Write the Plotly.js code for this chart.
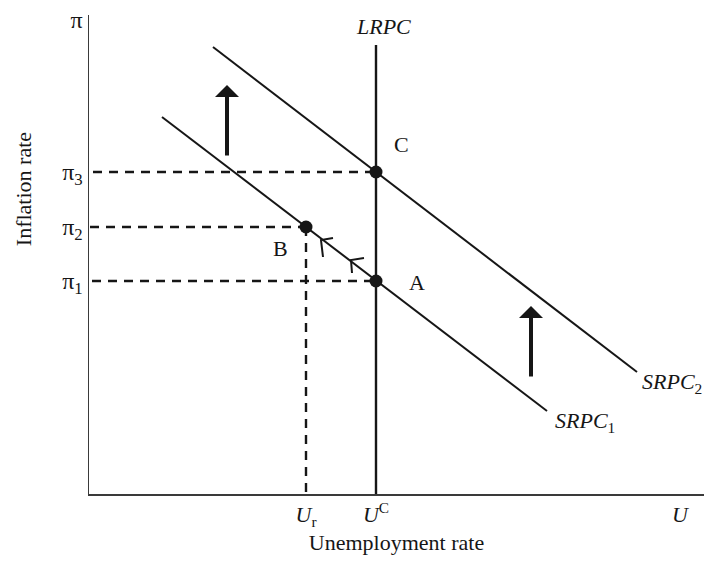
<!DOCTYPE html>
<html>
<head>
<meta charset="utf-8">
<script src="https://cdn.plot.ly/plotly-3.0.1.min.js"></script>
<style>html,body{margin:0;padding:0;background:#fff;}#chart{width:704px;height:563px;}</style>
</head>
<body>
<div id="chart"></div>
<script>
// ---- data (diagram units) ----
const srpc1X = [73, 458];
const srpc1Y = [377, 83];
const srpc2X = [124, 548];
const srpc2Y = [447, 122];
const lrpcX = [287, 287];
const lrpcY = [0, 449];
const pointNames = ['A', 'B', 'C'];
const pointX = [287, 217, 287];
const pointY = [213, 267, 322];
const dashStartX = [3, 1, 4];           // start of the horizontal guides for A, B, C
const yTickVals = [213, 267, 322, 474];
const yTickText = ['π<sub>1</sub>', 'π<sub>2</sub>', 'π<sub>3</sub>', 'π'];
const xTickVals = [217, 287, 591];
const xTickText = ['<i>U</i><sub>r</sub>', '<i>U</i><sup>C</sup>', '<i>U</i>'];
const shiftArrowX = [138, 442];
const shiftArrowTailY = [337, 116];
const shiftArrowTipY = [409, 188];
const moveMark1X = [234, 232, 244];
const moveMark1Y = [237, 254, 256];
const moveMark2X = [263, 262, 275];
const moveMark2Y = [221, 234, 236];
const labelText = ['<i>LRPC</i>', 'C', 'B', 'A', '<i>SRPC</i><sub>1</sub>', '<i>SRPC</i><sub>2</sub>'];
const labelX = [294, 303, 191, 318, 464, 551];
const labelY = [468, 350, 246, 212, 72, 111];
const labelAnchor = ['center', 'left', 'center', 'left', 'left', 'left'];
const xTitle = 'Unemployment rate';
const yTitle = 'Inflation rate';

const INK = '#161616';
const FONT = 'Liberation Serif, Times New Roman, serif';
const FS = 22;

const traces = [];
// dashed guides
for (let i = 0; i < pointX.length; i++) {
  traces.push({x: [dashStartX[i], pointX[i]], y: [pointY[i], pointY[i]], mode: 'lines',
    line: {color: INK, width: 2.4, dash: '9px,7px'}, hoverinfo: 'skip', showlegend: false});
}
const bIdx = pointNames.indexOf('B');
traces.push({x: [pointX[bIdx], pointX[bIdx]], y: [pointY[bIdx], 0], mode: 'lines',
  line: {color: INK, width: 2.4, dash: '9px,7px'}, hoverinfo: 'skip', showlegend: false});
// curves
traces.push({x: srpc1X, y: srpc1Y, mode: 'lines', line: {color: INK, width: 2}, showlegend: false});
traces.push({x: srpc2X, y: srpc2Y, mode: 'lines', line: {color: INK, width: 2}, showlegend: false});
traces.push({x: lrpcX, y: lrpcY, mode: 'lines', line: {color: INK, width: 2.4}, showlegend: false});
// movement marks
traces.push({x: moveMark1X, y: moveMark1Y, mode: 'lines', line: {color: INK, width: 2}, showlegend: false});
traces.push({x: moveMark2X, y: moveMark2Y, mode: 'lines', line: {color: INK, width: 2}, showlegend: false});
// points
traces.push({x: pointX, y: pointY, mode: 'markers', marker: {color: INK, size: 13}, showlegend: false, cliponaxis: false});

const annotations = [];
for (let i = 0; i < labelText.length; i++) {
  annotations.push({x: labelX[i], y: labelY[i], xref: 'x', yref: 'y', text: labelText[i],
    showarrow: false, xanchor: labelAnchor[i], yanchor: 'middle',
    font: {family: FONT, size: FS, color: INK}});
}
for (let i = 0; i < shiftArrowX.length; i++) {
  annotations.push({x: shiftArrowX[i], y: shiftArrowTipY[i], ax: shiftArrowX[i], ay: shiftArrowTailY[i],
    xref: 'x', yref: 'y', axref: 'x', ayref: 'y', text: '', showarrow: true,
    arrowhead: 1, arrowsize: 1, arrowwidth: 4, arrowcolor: INK});
}
// y-axis title placed as in the reference (above the plot centre)
annotations.push({x: -0.107, y: 305, xref: 'paper', yref: 'y', text: yTitle, textangle: -90,
  showarrow: false, xanchor: 'center', yanchor: 'middle', font: {family: FONT, size: FS, color: INK}});

const layout = {
  width: 704, height: 563,
  margin: {l: 89, r: 0, t: 15, b: 69},
  paper_bgcolor: '#fff', plot_bgcolor: '#fff',
  font: {family: FONT, size: FS, color: INK},
  xaxis: {range: [0, 615], showgrid: false, zeroline: false, showline: true, linecolor: '#3a3a3a', linewidth: 1.5,
    ticks: '', tickvals: xTickVals, ticktext: xTickText, tickfont: {family: FONT, size: FS, color: INK},
    title: {text: xTitle, font: {family: FONT, size: FS, color: INK}, standoff: 2}, fixedrange: true},
  yaxis: {range: [0, 479], showgrid: false, zeroline: false, showline: true, linecolor: '#3a3a3a', linewidth: 1.5,
    ticks: '', tickvals: yTickVals, ticktext: yTickText, tickfont: {family: FONT, size: FS + 2, color: INK},
    fixedrange: true},
  annotations: annotations,
  showlegend: false
};
Plotly.newPlot('chart', traces, layout, {displayModeBar: false, staticPlot: true});
</script>
</body>
</html>
